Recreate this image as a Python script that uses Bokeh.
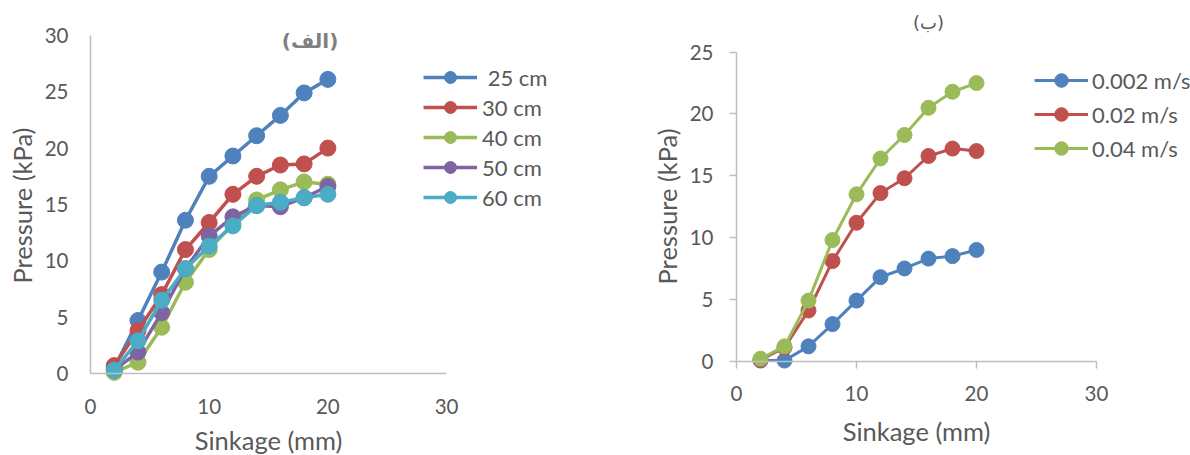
import math
from bokeh.plotting import figure
from bokeh.models import Range1d, Legend, LegendItem, Label, FixedTicker
from bokeh.layouts import row
from bokeh.embed import file_html
from bokeh.resources import INLINE

# ---------------- data ----------------
sinkage = [2, 4, 6, 8, 10, 12, 14, 16, 18, 20]

depth_labels = [" 25 cm", "30 cm", "40 cm", "50 cm", "60 cm"]
p_25cm = [0.5, 4.7, 9.0, 13.6, 17.5, 19.3, 21.1, 22.9, 24.9, 26.1]
p_30cm = [0.7, 3.8, 7.0, 11.0, 13.4, 15.9, 17.5, 18.5, 18.6, 20.0]
p_40cm = [0.1, 1.0, 4.1, 8.1, 11.0, 13.3, 15.4, 16.3, 17.0, 16.8]
p_50cm = [0.3, 1.9, 5.4, 9.3, 12.2, 13.9, 14.9, 14.8, 15.6, 16.6]
p_60cm = [0.3, 2.9, 6.5, 9.3, 11.3, 13.1, 14.9, 15.2, 15.6, 15.9]

speed_labels = ["0.002 m/s", "0.02 m/s", "0.04 m/s"]
p_0002 = [0.05, 0.05, 1.2, 3.0, 4.9, 6.8, 7.5, 8.3, 8.5, 9.0]
p_002 = [0.1, 1.1, 4.1, 8.1, 11.2, 13.6, 14.8, 16.6, 17.2, 17.0]
p_004 = [0.2, 1.2, 4.9, 9.8, 13.5, 16.4, 18.3, 20.5, 21.8, 22.5]

x_ticks = [0, 10, 20, 30]
left_y_ticks = [0, 5, 10, 15, 20, 25, 30]
right_y_ticks = [0, 5, 10, 15, 20, 25]

title_left = "(الف)"
title_right = "(ب)"
x_title = "Sinkage (mm)"
y_title = "Pressure (kPa)"

# ---------------- style ----------------
TXT = "#595959"
AX = "#BFBFBF"
FONT = "Lato"
depth_colors = ["#4F81BD", "#C0504D", "#9BBB59", "#8064A2", "#4BACC6"]
speed_colors = ["#4F81BD", "#C0504D", "#9BBB59"]


def make_fig(width, xr, yr, yticks, tick_out, xstand, ystand):
    p = figure(width=width, height=455, x_range=Range1d(*xr), y_range=Range1d(*yr),
               output_backend="svg", toolbar_location=None, min_border=0)
    p.title.visible = False
    p.outline_line_color = None
    p.xgrid.grid_line_color = None
    p.ygrid.grid_line_color = None
    for ax in (p.xaxis[0], p.yaxis[0]):
        ax.fixed_location = 0
        ax.axis_line_color = AX
        ax.axis_line_width = 1.5
        ax.major_tick_line_color = AX
        ax.major_tick_line_width = 1.5
        ax.major_tick_out = tick_out
        ax.major_tick_in = 0
        ax.minor_tick_line_color = None
        ax.minor_tick_out = 0
        ax.minor_tick_in = 0
        ax.major_label_text_font = FONT
        ax.major_label_text_font_size = "20.5px"
        ax.major_label_text_color = TXT
    p.xaxis[0].ticker = FixedTicker(ticks=x_ticks)
    p.yaxis[0].ticker = FixedTicker(ticks=yticks)
    p.xaxis[0].bounds = (x_ticks[0], x_ticks[-1])
    p.yaxis[0].bounds = (yticks[0], yticks[-1])
    p.xaxis[0].major_label_standoff = xstand
    p.yaxis[0].major_label_standoff = ystand
    return p


def axis_titles(p, xpos, ypos):
    p.add_layout(Label(x=xpos[0], y=xpos[1], text=x_title, text_align="center",
                       text_baseline="middle", text_font=FONT, text_font_size="25.5px",
                       text_color=TXT))
    p.add_layout(Label(x=ypos[0], y=ypos[1], text=y_title, text_align="center",
                       text_baseline="middle", text_font=FONT, text_font_size="25.5px",
                       text_color=TXT, angle=math.pi / 2))


# ---------------- left chart ----------------
p1 = make_fig(600, (-7.582, 42.97), (-7.276, 33.10), left_y_ticks, 0, 25, 22)
axis_titles(p1, (15, -5.9), (-5.73, 14.9))

items1 = []
for lab, ys, col in zip(depth_labels, [p_25cm, p_30cm, p_40cm, p_50cm, p_60cm], depth_colors):
    r1 = p1.line(sinkage, ys, line_color=col, line_width=3.5)
    r2 = p1.scatter(sinkage, ys, size=16, fill_color=col, line_color=col)
    items1.append(LegendItem(label=lab, renderers=[r1, r2]))

leg1 = Legend(items=items1, location=(423, 243), padding=0, margin=0, spacing=0,
              glyph_width=54, glyph_height=30, label_height=25, label_standoff=5,
              label_text_font=FONT, label_text_font_size="22px", label_text_color=TXT,
              border_line_color=None, background_fill_alpha=0)
p1.add_layout(leg1, "center")
p1.add_layout(Label(x=18.5, y=29.55, text=title_left, text_align="center", text_baseline="middle",
                    text_font="DejaVu Sans", text_font_style="bold", text_font_size="20px",
                    text_color="#7F7F7F"))

# ---------------- right chart ----------------
p2 = make_fig(590, (-11.333, 37.833), (-7.63, 29.18), right_y_ticks, 7, 18, 16)
axis_titles(p2, (15, -5.61), (-5.75, 12.52))

items2 = []
for lab, ys, col in zip(speed_labels, [p_0002, p_002, p_004], speed_colors):
    r1 = p2.line(sinkage, ys, line_color=col, line_width=3)
    r2 = p2.scatter(sinkage, ys, size=15, fill_color=col, line_color=col)
    items2.append(LegendItem(label=lab, renderers=[r1, r2]))

leg2 = Legend(items=items2, location=(434, 290), padding=0, margin=0, spacing=0,
              glyph_width=54, glyph_height=34, label_height=25, label_standoff=4,
              label_text_font=FONT, label_text_font_size="22px", label_text_color=TXT,
              border_line_color=None, background_fill_alpha=0)
p2.add_layout(leg2, "center")
p2.add_layout(Label(x=16, y=27.39, text=title_right, text_align="center", text_baseline="middle",
                    text_font="DejaVu Sans", text_font_size="18px", text_color=TXT))

layout = row(p1, p2)
open("out.html", "w").write(file_html(layout, INLINE))
